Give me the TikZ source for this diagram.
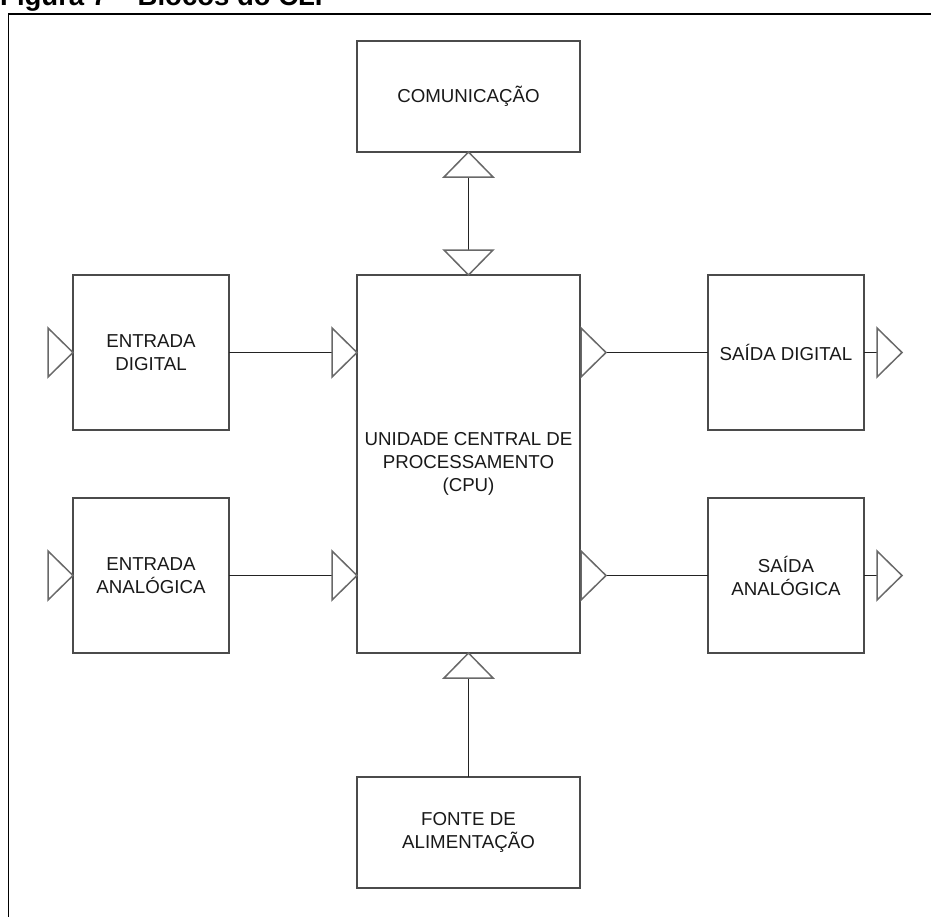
\documentclass[tikz,border=0pt]{standalone}
\usepackage{fontspec}
\setmainfont{Liberation Sans}
\definecolor{boxgray}{RGB}{75,75,75}
\definecolor{trigray}{RGB}{105,105,105}
\definecolor{wirec}{RGB}{35,35,35}
\definecolor{txt}{RGB}{25,25,25}
\begin{document}
\begin{tikzpicture}[x=1pt,y=-1pt,
 blk/.style={draw=boxgray, line width=1.8pt, fill=white, inner sep=0pt, outer sep=0pt,
   align=center, font=\fontsize{18.7}{23}\selectfont, text=txt},
 wire/.style={draw=wirec, line width=1.2pt},
 tri/.pic={\draw[draw=trigray, line width=1.5pt, fill=white, line join=miter]
   (0pt,0pt) -- (-25pt,24.5pt) -- (-25pt,-24.5pt) -- cycle;}
]
\useasboundingbox (0,0) rectangle (931,916);
\node[anchor=base west, inner sep=0pt, font=\bfseries\fontsize{27.5}{30}\selectfont] (title) at (0,5) {Figura 7 – Blocos do CLP};
\draw[black, line width=1.5pt] (8.5,960) -- (8.5,14) -- (960,14);

\node[blk, minimum width=223pt, minimum height=111pt] (com) at (468.5,96.5) {COMUNICAÇÃO};
\node[blk, minimum width=223pt, minimum height=378pt] (cpu) at (468.5,464) {UNIDADE CENTRAL DE\\PROCESSAMENTO\\(CPU)};
\node[blk, minimum width=156pt, minimum height=155pt] (ed) at (151,352.5) {ENTRADA\\DIGITAL};
\node[blk, minimum width=156pt, minimum height=155pt] (ea) at (151,575.5) {ENTRADA\\ANALÓGICA};
\node[blk, minimum width=156pt, minimum height=155pt] (sd) at (786,352.5) {SAÍDA DIGITAL};
\node[blk, minimum width=156pt, minimum height=155pt] (sa) at (786,575.5) {SAÍDA\\ANALÓGICA};
\node[blk, minimum width=223pt, minimum height=111pt] (fa) at (468.5,832.5) {FONTE DE\\ALIMENTAÇÃO};

% communication link
\coordinate (c1) at ([yshift=-25pt]com.south);
\coordinate (c2) at ([yshift=25pt]cpu.north);
\draw[wire] (c1) -- (c2);
\pic[rotate=90] at (com.south) {tri};
\pic[rotate=-90] at (cpu.north) {tri};

% power supply
\coordinate (f1) at ([yshift=-25pt]cpu.south);
\draw[wire] (f1) -- (fa.north);
\pic[rotate=90] at (cpu.south) {tri};

% digital input
\pic at (ed.west) {tri};
\coordinate (e1) at ([xshift=-25pt]cpu.west |- ed.east);
\draw[wire] (ed.east) -- (e1);
\pic at (cpu.west |- ed.east) {tri};

% analog input
\pic at (ea.west) {tri};
\coordinate (e2) at ([xshift=-25pt]cpu.west |- ea.east);
\draw[wire] (ea.east) -- (e2);
\pic at (cpu.west |- ea.east) {tri};

% digital output
\coordinate (s1) at ([xshift=26pt]cpu.east |- sd.west);
\draw[wire] (s1) -- (sd.west);
\pic at (s1) {tri};
\coordinate (s2) at ([xshift=13pt]sd.east);
\draw[wire] (sd.east) -- (s2);
\pic at ([xshift=38pt]sd.east) {tri};

% analog output
\coordinate (s3) at ([xshift=26pt]cpu.east |- sa.west);
\draw[wire] (s3) -- (sa.west);
\pic at (s3) {tri};
\coordinate (s4) at ([xshift=13pt]sa.east);
\draw[wire] (sa.east) -- (s4);
\pic at ([xshift=38pt]sa.east) {tri};
\end{tikzpicture}
\end{document}
